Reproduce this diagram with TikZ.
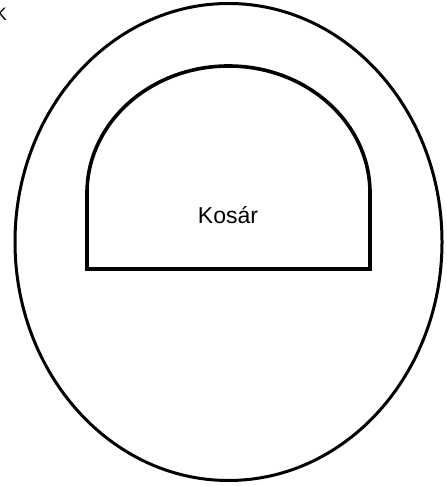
\documentclass[tikz,border=0pt]{standalone}
\usepackage{fontspec}
\setmainfont{Liberation Sans}
\usetikzlibrary{positioning}
\tikzset{
  outline/.style={draw=black, line width=3pt},
  basket/.style={draw=black, line width=3.6pt},
  lbl/.style={font=\fontsize{23}{27}\selectfont, inner sep=0pt},
}

\begin{document}
\begin{tikzpicture}[x=1pt, y=1pt]
      \useasboundingbox (0,0) rectangle (446,486);
      \draw[outline] (228.5,244) ellipse [x radius=213.5, y radius=238.5];
      \draw[basket] (87,293) -- (87,217) -- (370,217) -- (370,293)
        arc [start angle=0, end angle=180, x radius=141.5, y radius=127];
      \node[lbl] (kosar) at (228,271) {Kosár};
      \node[lbl, anchor=east, font=\fontsize{18}{20}\selectfont] (k) at (7,472) {K};
    \end{tikzpicture}
\end{document}
